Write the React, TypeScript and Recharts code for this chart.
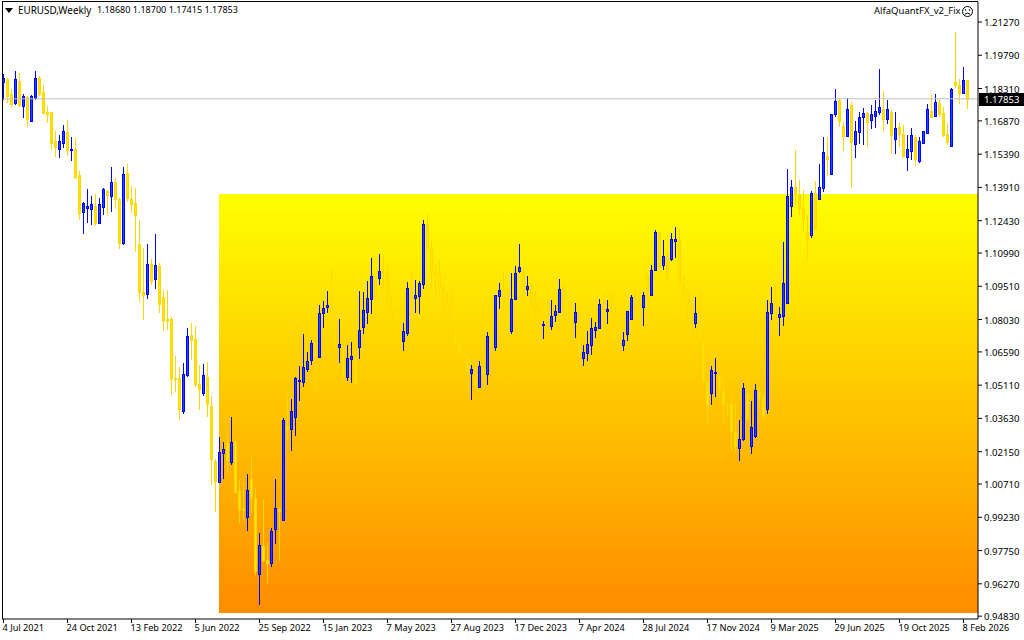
import { Bar, ComposedChart, ReferenceArea, ReferenceLine, XAxis, YAxis } from 'recharts';

const SYMBOL = 'EURUSD,Weekly';
const QUOTE = '1.18680 1.18700 1.17415 1.17853';
const EA_NAME = 'AlfaQuantFX_v2_Fix';
const LAST_PRICE = 1.17853;

const opens = [
  1.1860, 1.1873, 1.1807, 1.1767, 1.1865, 1.1753, 1.1793, 1.1687, 1.1789, 1.1878,
  1.1816, 1.1727, 1.1727, 1.1597, 1.1562, 1.1589, 1.1637, 1.1557, 1.1562, 1.1446,
  1.1281, 1.1299, 1.1295, 1.1308, 1.1232, 1.1304, 1.1375, 1.1353, 1.1415, 1.1339,
  1.1144, 1.1455, 1.1339, 1.1321, 1.1139, 1.0926, 1.0917, 1.1050, 1.0984, 1.1041,
  1.0903, 1.0806, 1.0806, 1.0543, 1.0543, 1.0396, 1.0557, 1.0734, 1.0717, 1.0517,
  1.0476, 1.0548, 1.0418, 1.0174, 1.0080, 1.0209, 1.0254, 1.0169, 1.0263, 1.0040,
  0.9965, 0.9925, 1.0094, 1.0009, 0.9671, 0.9795, 0.9733, 0.9720, 0.9871, 0.9960,
  0.9911, 1.0329, 1.0316, 1.0369, 1.0530, 1.0525, 1.0583, 1.0623, 1.0686, 1.0636,
  1.0832, 1.0859, 1.0859, 1.0779, 1.0681, 1.0681, 1.0548, 1.0628, 1.0636, 1.0681,
  1.0770, 1.0837, 1.0895, 1.0979, 1.0988, 1.1019, 1.1015, 1.0850, 1.0801, 1.0717,
  1.0708, 1.0743, 1.0943, 1.0899, 1.0908, 1.0961, 1.1228, 1.1121, 1.1015, 1.1006,
  1.0943, 1.0863, 1.0792, 1.0770, 1.0708, 1.0654, 1.0641, 1.0565, 1.0548, 1.0503,
  1.0588, 1.0561, 1.0721, 1.0681, 1.0908, 1.0939, 1.0872, 1.0752, 1.0895, 1.1019,
  1.1015, 1.0939, 1.0943, 1.0886, 1.0841, 1.0779, 1.0819, 1.0775, 1.0823, 1.0837,
  1.0935, 1.0886, 1.0801, 1.0792, 1.0832, 1.0632, 1.0654, 1.0690, 1.0757, 1.0766,
  1.0863, 1.0841, 1.0841, 1.0761, 1.0703, 1.0690, 1.0739, 1.0806, 1.0899, 1.0876,
  1.0859, 1.0997, 1.0913, 1.1024, 1.1188, 1.1046, 1.1081, 1.1073, 1.1153, 1.1157,
  1.0961, 1.0926, 1.0859, 1.0788, 1.0877, 1.0708, 1.0530, 1.0476, 1.0565, 1.0552,
  1.0485, 1.0427, 1.0427, 1.0303, 1.0231, 1.0271, 1.0472, 1.0240, 1.0285, 1.0481,
  1.0463, 1.0405, 1.0832, 1.0877, 1.0814, 1.0819, 1.0877, 1.1308, 1.1393, 1.1362,
  1.1299, 1.1192, 1.1179, 1.1366, 1.1339, 1.1388, 1.1530, 1.1451, 1.1718, 1.1780,
  1.1664, 1.1620, 1.1758, 1.1584, 1.1637, 1.1704, 1.1722, 1.1691, 1.1709, 1.1727,
  1.1740, 1.1695, 1.1727, 1.1606, 1.1660, 1.1629, 1.1526, 1.1553, 1.1615, 1.1508,
  1.1589, 1.1633, 1.1731, 1.1709, 1.1767, 1.1722, 1.1629, 1.1575, 1.1860, 1.1847,
  1.1811, 1.1868,
];

const closes = [
  1.1878, 1.1797, 1.1762, 1.1873, 1.1758, 1.1797, 1.1695, 1.1797, 1.1878, 1.1807,
  1.1722, 1.1718, 1.1589, 1.1571, 1.1597, 1.1642, 1.1557, 1.1562, 1.1437, 1.1277,
  1.1321, 1.1308, 1.1317, 1.1232, 1.1317, 1.1384, 1.1357, 1.1415, 1.1339, 1.1144,
  1.1451, 1.1344, 1.1317, 1.1268, 1.0926, 1.0913, 1.1050, 1.0975, 1.1046, 1.0872,
  1.0801, 1.0797, 1.0543, 1.0539, 1.0405, 1.0561, 1.0730, 1.0712, 1.0517, 1.0494,
  1.0557, 1.0427, 1.0183, 1.0085, 1.0214, 1.0227, 1.0178, 1.0258, 1.0036, 0.9960,
  0.9956, 1.0045, 1.0014, 0.9684, 0.9800, 0.9733, 0.9720, 0.9862, 0.9965, 0.9951,
  1.0356, 1.0316, 1.0396, 1.0543, 1.0534, 1.0592, 1.0619, 1.0699, 1.0641, 1.0832,
  1.0854, 1.0868, 1.0792, 1.0681, 1.0694, 1.0548, 1.0632, 1.0641, 1.0521, 1.0757,
  1.0846, 1.0899, 1.0997, 1.0903, 1.1019, 1.1015, 1.0850, 1.0806, 1.0725, 1.0708,
  1.0752, 1.0943, 1.0903, 1.0913, 1.0966, 1.1228, 1.1126, 1.1019, 1.1006, 1.0948,
  1.0872, 1.0792, 1.0775, 1.0699, 1.0663, 1.0645, 1.0574, 1.0583, 1.0512, 1.0597,
  1.0565, 1.0730, 1.0686, 1.0913, 1.0935, 1.0881, 1.0761, 1.0895, 1.1010, 1.1037,
  1.0943, 1.0952, 1.0899, 1.0854, 1.0788, 1.0783, 1.0779, 1.0819, 1.0841, 1.0939,
  1.0890, 1.0806, 1.0788, 1.0837, 1.0659, 1.0659, 1.0694, 1.0766, 1.0770, 1.0872,
  1.0846, 1.0850, 1.0801, 1.0708, 1.0694, 1.0712, 1.0841, 1.0903, 1.0859, 1.0846,
  1.0913, 1.0935, 1.1024, 1.1192, 1.1055, 1.1086, 1.1001, 1.1161, 1.1161, 1.0970,
  1.0935, 1.0868, 1.0797, 1.0832, 1.0721, 1.0534, 1.0418, 1.0579, 1.0570, 1.0503,
  1.0427, 1.0423, 1.0307, 1.0240, 1.0271, 1.0499, 1.0360, 1.0325, 1.0490, 1.0459,
  1.0378, 1.0837, 1.0877, 1.0814, 1.0828, 1.0966, 1.1353, 1.1393, 1.1362, 1.1299,
  1.1250, 1.1161, 1.1366, 1.1210, 1.1393, 1.1548, 1.1517, 1.1718, 1.1776, 1.1687,
  1.1620, 1.1740, 1.1593, 1.1642, 1.1704, 1.1722, 1.1682, 1.1718, 1.1731, 1.1749,
  1.1695, 1.1740, 1.1624, 1.1655, 1.1629, 1.1530, 1.1562, 1.1624, 1.1517, 1.1597,
  1.1642, 1.1740, 1.1704, 1.1771, 1.1718, 1.1624, 1.1593, 1.1829, 1.1847, 1.1811,
  1.1869, 1.17853,
];

const highs = [
  1.1896, 1.1878, 1.1829, 1.1909, 1.1900, 1.1807, 1.1797, 1.1802, 1.1909, 1.1887,
  1.1847, 1.1753, 1.1727, 1.1642, 1.1624, 1.1669, 1.1691, 1.1615, 1.1611, 1.1464,
  1.1326, 1.1384, 1.1353, 1.1362, 1.1344, 1.1388, 1.1379, 1.1482, 1.1433, 1.1344,
  1.1482, 1.1495, 1.1397, 1.1388, 1.1246, 1.1121, 1.1139, 1.1073, 1.1183, 1.1055,
  1.0935, 1.0935, 1.0814, 1.0641, 1.0592, 1.0610, 1.0766, 1.0788, 1.0775, 1.0601,
  1.0605, 1.0614, 1.0463, 1.0183, 1.0281, 1.0258, 1.0298, 1.0369, 1.0267, 1.0089,
  1.0080, 1.0116, 1.0200, 1.0054, 0.9853, 1.0000, 0.9809, 0.9875, 1.0094, 0.9969,
  1.0365, 1.0481, 1.0449, 1.0548, 1.0597, 1.0739, 1.0659, 1.0712, 1.0690, 1.0868,
  1.0886, 1.0930, 1.1032, 1.0779, 1.0806, 1.0681, 1.0690, 1.0703, 1.0636, 1.0930,
  1.0926, 1.0975, 1.1077, 1.0979, 1.1095, 1.1090, 1.1055, 1.0903, 1.0801, 1.0721,
  1.0788, 1.0970, 1.1015, 1.0979, 1.0975, 1.1246, 1.1277, 1.1148, 1.1046, 1.1064,
  1.0957, 1.0926, 1.0948, 1.0775, 1.0712, 1.0659, 1.0645, 1.0601, 1.0592, 1.0619,
  1.0636, 1.0748, 1.0725, 1.0913, 1.0966, 1.1019, 1.0943, 1.1010, 1.1041, 1.1139,
  1.1037, 1.0997, 1.0966, 1.0935, 1.0846, 1.0797, 1.0890, 1.0890, 1.0868, 1.0984,
  1.0966, 1.0890, 1.0801, 1.0877, 1.0832, 1.0690, 1.0752, 1.0810, 1.0792, 1.0895,
  1.0890, 1.0890, 1.0921, 1.0854, 1.0703, 1.0748, 1.0841, 1.0913, 1.0948, 1.0921,
  1.0926, 1.1010, 1.1046, 1.1201, 1.1192, 1.1157, 1.1113, 1.1188, 1.1215, 1.1210,
  1.0992, 1.0935, 1.0877, 1.0903, 1.0939, 1.0708, 1.0534, 1.0597, 1.0632, 1.0557,
  1.0534, 1.0441, 1.0459, 1.0436, 1.0356, 1.0521, 1.0534, 1.0441, 1.0517, 1.0503,
  1.0476, 1.0890, 1.0948, 1.0957, 1.0859, 1.1148, 1.1473, 1.1424, 1.1557, 1.1424,
  1.1379, 1.1268, 1.1375, 1.1420, 1.1495, 1.1615, 1.1615, 1.1718, 1.1829, 1.1789,
  1.1682, 1.1789, 1.1771, 1.1687, 1.1727, 1.1745, 1.1727, 1.1758, 1.1780, 1.1918,
  1.1820, 1.1780, 1.1740, 1.1727, 1.1678, 1.1669, 1.1624, 1.1655, 1.1624, 1.1615,
  1.1642, 1.1762, 1.1802, 1.1807, 1.1784, 1.1749, 1.1678, 1.1833, 1.2083, 1.1873,
  1.1927, 1.18700,
];

const lows = [
  1.1780, 1.1767, 1.1749, 1.1758, 1.1749, 1.1700, 1.1660, 1.1687, 1.1780, 1.1797,
  1.1722, 1.1678, 1.1557, 1.1526, 1.1522, 1.1566, 1.1530, 1.1508, 1.1428, 1.1246,
  1.1183, 1.1232, 1.1224, 1.1219, 1.1228, 1.1268, 1.1268, 1.1281, 1.1295, 1.1117,
  1.1135, 1.1326, 1.1277, 1.1104, 1.0881, 1.0801, 1.0895, 1.0957, 1.0939, 1.0832,
  1.0752, 1.0757, 1.0468, 1.0481, 1.0356, 1.0383, 1.0548, 1.0623, 1.0503, 1.0401,
  1.0463, 1.0369, 1.0067, 0.9947, 1.0076, 1.0094, 1.0120, 1.0156, 1.0027, 0.9898,
  0.9907, 0.9862, 0.9943, 0.9666, 0.9533, 0.9724, 0.9626, 0.9702, 0.9804, 0.9729,
  0.9911, 1.0267, 1.0218, 1.0285, 1.0441, 1.0503, 1.0570, 1.0601, 1.0481, 1.0632,
  1.0766, 1.0832, 1.0792, 1.0681, 1.0610, 1.0548, 1.0530, 1.0521, 1.0512, 1.0628,
  1.0739, 1.0783, 1.0828, 1.0899, 1.0957, 1.0943, 1.0850, 1.0806, 1.0725, 1.0636,
  1.0663, 1.0730, 1.0890, 1.0832, 1.0828, 1.0939, 1.1104, 1.0939, 1.0908, 1.0899,
  1.0846, 1.0792, 1.0775, 1.0699, 1.0663, 1.0636, 1.0485, 1.0445, 1.0490, 1.0503,
  1.0521, 1.0512, 1.0686, 1.0663, 1.0850, 1.0832, 1.0743, 1.0739, 1.0895, 1.1010,
  1.0876, 1.0908, 1.0846, 1.0814, 1.0788, 1.0717, 1.0748, 1.0757, 1.0792, 1.0837,
  1.0846, 1.0801, 1.0783, 1.0721, 1.0636, 1.0597, 1.0619, 1.0645, 1.0721, 1.0761,
  1.0837, 1.0783, 1.0792, 1.0699, 1.0686, 1.0663, 1.0708, 1.0801, 1.0846, 1.0823,
  1.0775, 1.0890, 1.0908, 1.1019, 1.1037, 1.1024, 1.0979, 1.1064, 1.1077, 1.0948,
  1.0899, 1.0810, 1.0766, 1.0766, 1.0721, 1.0534, 1.0334, 1.0423, 1.0459, 1.0454,
  1.0338, 1.0378, 1.0218, 1.0209, 1.0174, 1.0263, 1.0356, 1.0205, 1.0276, 1.0401,
  1.0356, 1.0383, 1.0801, 1.0810, 1.0730, 1.0775, 1.0872, 1.1259, 1.1313, 1.1268,
  1.1192, 1.1064, 1.1165, 1.1201, 1.1339, 1.1371, 1.1442, 1.1451, 1.1704, 1.1660,
  1.1553, 1.1615, 1.1388, 1.1522, 1.1584, 1.1580, 1.1571, 1.1651, 1.1655, 1.1713,
  1.1642, 1.1673, 1.1539, 1.1539, 1.1571, 1.1522, 1.1464, 1.1513, 1.1486, 1.1499,
  1.1584, 1.1633, 1.1704, 1.1704, 1.1704, 1.1615, 1.1580, 1.1571, 1.1833, 1.1762,
  1.1807, 1.17415,
];

const priceTicks = [
  1.2127, 1.1979, 1.1831, 1.1687, 1.1539, 1.1391, 1.1243, 1.1099, 1.0951, 1.0803,
  1.0659, 1.0511, 1.0363, 1.0215, 1.0071, 0.9923, 0.9775, 0.9627, 0.9483,
];

const dateLabels = [
  '4 Jul 2021', '24 Oct 2021', '13 Feb 2022', '5 Jun 2022', '25 Sep 2022', '15 Jan 2023',
  '7 May 2023', '27 Aug 2023', '17 Dec 2023', '7 Apr 2024', '28 Jul 2024', '17 Nov 2024',
  '9 Mar 2025', '29 Jun 2025', '19 Oct 2025', '8 Feb 2026',
];

const BARS_PER_LABEL = 16;
const dateTicks = dateLabels.map((_, i) => i * BARS_PER_LABEL);

const candles = opens.map((open, i) => ({
  i,
  open,
  close: closes[i],
  high: highs[i],
  low: lows[i],
}));

const FONT = '"Noto Sans", sans-serif';
const BLUE = '#0000ff';
const BLUE_FILL = '#1e46ff';
const GOLD = '#ffd700';
const GOLD_FILL = '#ffe600';

function Candle(props: any) {
  const { x, y, width, height, payload } = props;
  const { open, close, high, low } = payload;
  const up = close >= open;
  const scale = height / (high - low || 1);
  const cx = Math.floor(x + width / 2);
  const top = Math.round(y + (high - Math.max(open, close)) * scale);
  const bottom = Math.round(y + (high - Math.min(open, close)) * scale);
  const line = up ? BLUE : GOLD;
  return (
    <g shapeRendering="crispEdges">
      <rect x={cx} y={y} width={1} height={height} fill={line} />
      <rect x={cx - 1} y={top} width={3} height={Math.max(bottom - top + 1, 1)} fill={line} />
      {bottom - top > 1 && (
        <rect x={cx} y={top + 1} width={1} height={bottom - top - 1} fill={up ? BLUE_FILL : GOLD_FILL} />
      )}
    </g>
  );
}

function DateTick({ x, y, payload }: any) {
  return (
    <text x={x - 1} y={y + 8} fontSize={9.2} fontFamily={FONT} fill="#000">
      {dateLabels[payload.value / BARS_PER_LABEL]}
    </text>
  );
}

function PriceTick({ x, y, payload }: any) {
  return (
    <text x={x + 2} y={y + 4} fontSize={9.6} fontFamily={FONT} fill="#000">
      {payload.value.toFixed(5)}
    </text>
  );
}

export default function App() {
  return (
    <div style={{ position: 'absolute', left: 0, top: 0, width: 1024, height: 640, background: '#fff', fontFamily: FONT, overflow: 'hidden' }}>
      <ComposedChart
        width={1024}
        height={640}
        data={candles}
        margin={{ top: 2, right: 0, bottom: 0, left: 2 }}
        barCategoryGap={0}
      >
        <defs>
          <linearGradient id="bandFill" x1="0" y1="0" x2="0" y2="1">
            <stop offset="0%" stopColor="#ffff00" />
            <stop offset="100%" stopColor="#ff8c00" />
          </linearGradient>
        </defs>
        <XAxis
          dataKey="i"
          type="number"
          domain={[-0.375, 243.625]}
          ticks={dateTicks}
          interval={0}
          height={21}
          tickSize={4}
          tickMargin={0}
          tick={<DateTick />}
          stroke="#000"
          allowDataOverflow
        />
        <YAxis
          orientation="right"
          type="number"
          domain={[0.94704, 1.2216]}
          ticks={priceTicks}
          interval={0}
          width={46}
          tickSize={4}
          tickMargin={0}
          tick={<PriceTick />}
          stroke="#000"
          allowDataOverflow
        />
        <ReferenceArea
          x1={53.875}
          x2={243.625}
          y1={0.94971}
          y2={1.13616}
          fill="url(#bandFill)"
          fillOpacity={1}
          stroke="none"
        />
        <ReferenceLine y={LAST_PRICE} stroke="#c0c0c0" strokeWidth={1} />
        <Bar
          dataKey={(d: any) => [d.low, d.high]}
          barSize={3}
          shape={<Candle />}
          isAnimationActive={false}
        />
      </ComposedChart>

      {/* plot frame */}
      <div style={{ position: 'absolute', left: 2, top: 1, width: 976, height: 618, borderLeft: '1px solid #000', borderTop: '1px solid #000', boxSizing: 'border-box', pointerEvents: 'none' }} />

      {/* chart header */}
      <svg style={{ position: 'absolute', left: 5, top: 8 }} width={9} height={6}>
        <path d="M0 0 L8 0 L4 5 Z" fill="#000" />
      </svg>
      <div style={{ position: 'absolute', left: 18, top: 3, fontSize: 9.9, lineHeight: '14px', whiteSpace: 'pre', color: '#000' }}>
        {SYMBOL}
      </div>
      <div style={{ position: 'absolute', left: 97, top: 3, fontSize: 9.05, lineHeight: '14px', whiteSpace: 'pre', color: '#000' }}>
        {QUOTE}
      </div>
      <div style={{ position: 'absolute', left: 874, top: 4, fontSize: 9.5, lineHeight: '14px', whiteSpace: 'pre', color: '#000' }}>
        {EA_NAME}
      </div>
      <svg style={{ position: 'absolute', left: 961, top: 5 }} width={13} height={13}>
        <circle cx={6.5} cy={6.5} r={5} fill="none" stroke="#000" />
        <circle cx={4.5} cy={5} r={0.8} fill="#000" />
        <circle cx={8.5} cy={5} r={0.8} fill="#000" />
        <path d="M4 9.2 Q6.5 7 9 9.2" fill="none" stroke="#000" />
      </svg>

      {/* last price tag */}
      <div style={{ position: 'absolute', left: 979, top: 93, width: 45, height: 13, background: '#000', color: '#fff', fontSize: 9.6, lineHeight: '13px', paddingLeft: 5, boxSizing: 'border-box' }}>
        {LAST_PRICE.toFixed(5)}
      </div>
    </div>
  );
}
